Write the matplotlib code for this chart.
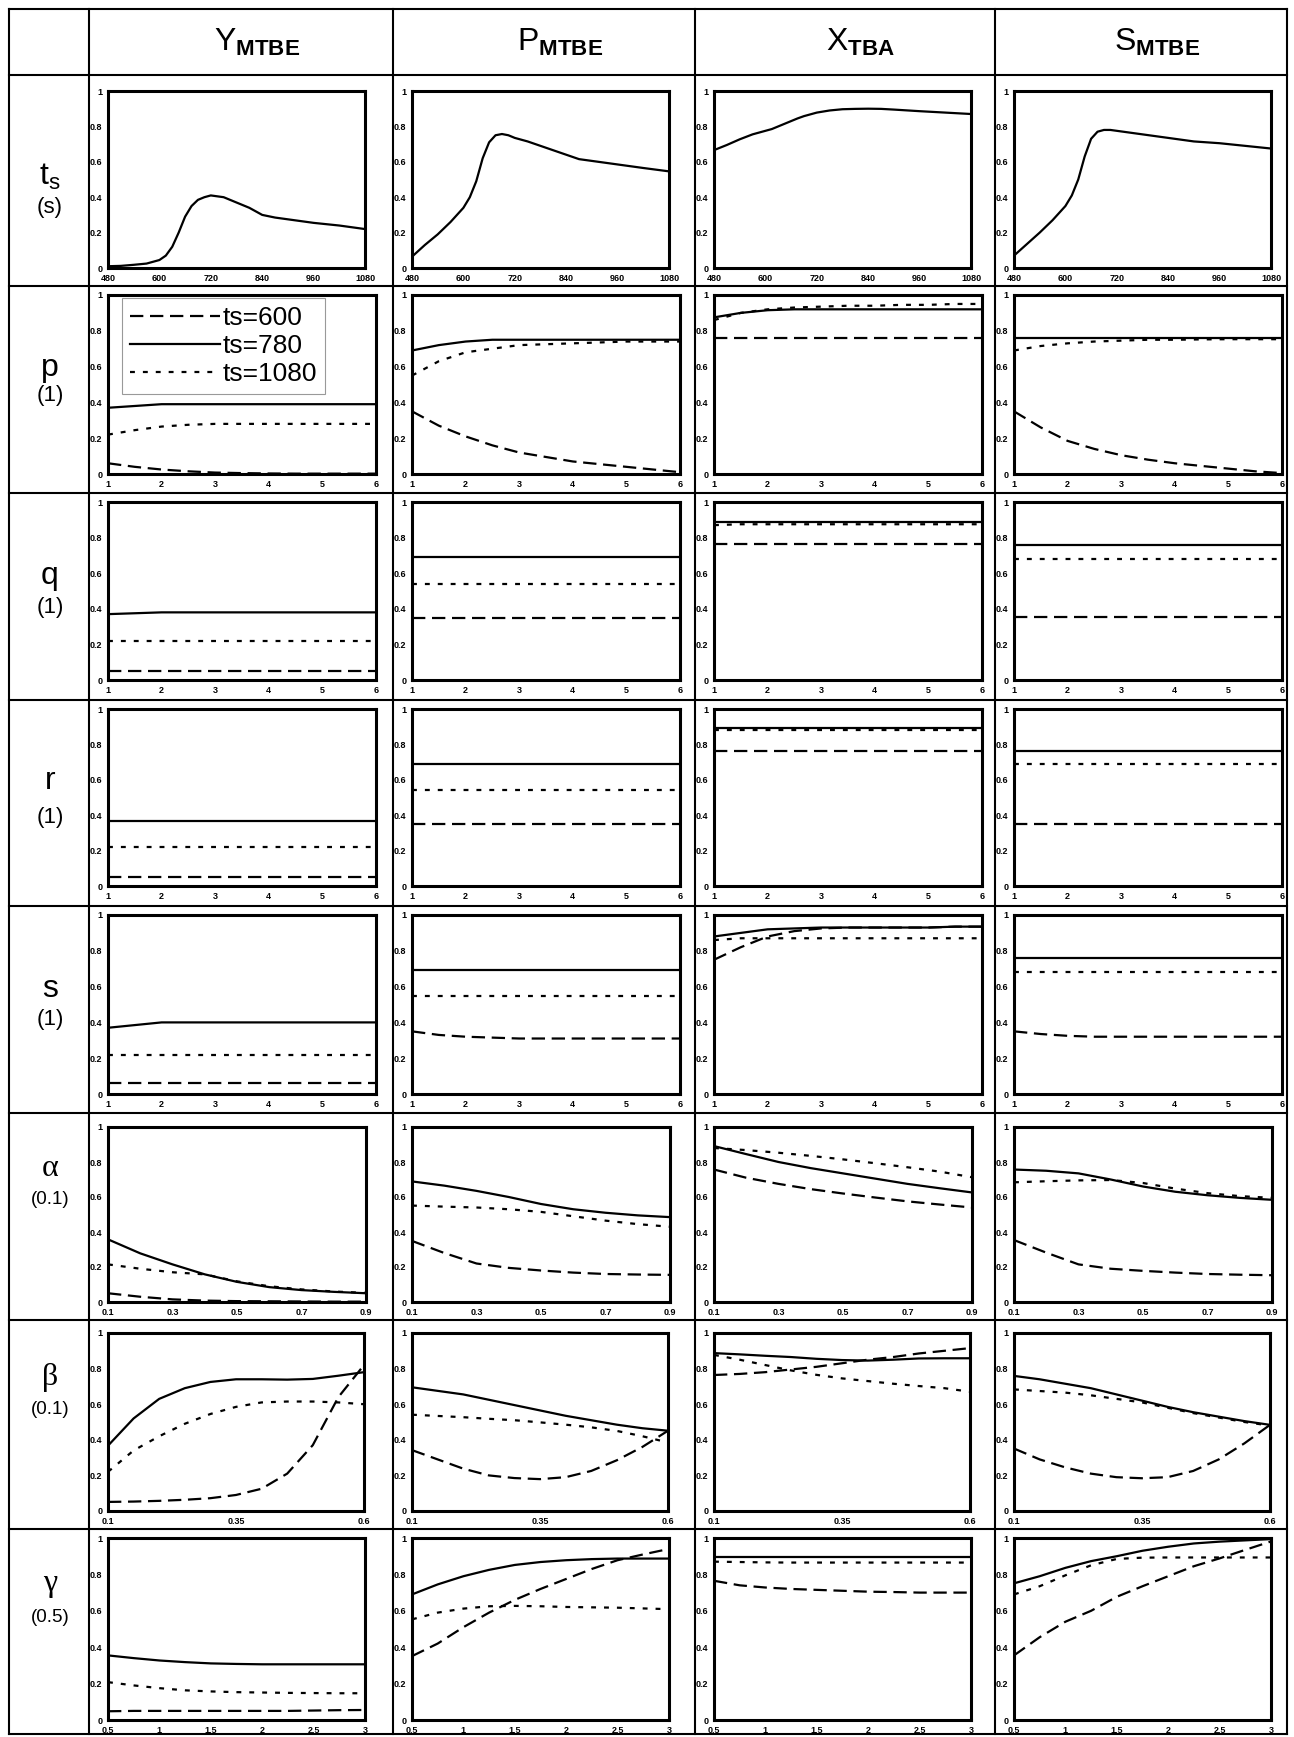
import matplotlib
matplotlib.use('Agg')
import matplotlib.pyplot as plt
from matplotlib.lines import Line2D

plt.rcParams['font.family'] = ['Liberation Sans', 'DejaVu Sans']
plt.rcParams['mathtext.fontset'] = 'custom'
plt.rcParams['mathtext.rm'] = 'Liberation Sans'
plt.rcParams['mathtext.bf'] = 'Liberation Sans:bold'
plt.rcParams['mathtext.it'] = 'Liberation Sans:italic'

# ---------------- data ----------------
COLUMN_TITLES = [r'$\mathrm{Y}_{\mathbf{MTBE}}$', r'$\mathrm{P}_{\mathbf{MTBE}}$',
                 r'$\mathrm{X}_{\mathbf{TBA}}$', r'$\mathrm{S}_{\mathbf{MTBE}}$']
ROW_NAMES = [r'$\mathrm{t}_{\mathrm{s}}$', 'p', 'q', 'r', 's', 'α', 'β', 'γ']
ROW_UNITS = ['(s)', '(1)', '(1)', '(1)', '(1)', '(0.1)', '(0.1)', '(0.5)']
SERIES_LABELS = ['ts=600', 'ts=780', 'ts=1080']
Y_TICKS = [0, 0.2, 0.4, 0.6, 0.8, 1]
Y_TICK_LABELS = ['0', '0.2', '0.4', '0.6', '0.8', '1']

# row t_s : single curve
TS_X = [480, 510, 540, 570, 600, 615, 630, 645, 660, 675, 690, 705, 720, 750, 780,
        810, 840, 870, 900, 960, 1020, 1080]
TS_Y = [.01, .012, .018, .025, .045, .07, .12, .20, .29, .35, .385, .40, .41, .40, .37,
        .34, .30, .285, .275, .255, .24, .22]
TS_P = [.064, .13, .19, .26, .34, .40, .49, .62, .71, .75, .757, .75, .735, .715, .69,
        .665, .64, .615, .605, .585, .565, .546]
TS_XT = [.666, .695, .727, .755, .775, .785, .80, .815, .83, .845, .858, .868, .878, .89, .897,
         .899, .90, .899, .895, .886, .878, .87]
TS_S = [.07, .135, .20, .27, .35, .41, .50, .63, .73, .77, .78, .78, .775, .765, .755,
        .745, .735, .725, .715, .705, .69, .675]
TS_TICKS = [480, 600, 720, 840, 960, 1080]

# rows p, q, r, s
PQRS_X = [1, 1.5, 2, 2.5, 3, 3.5, 4, 4.5, 5, 5.5, 6]
PQRS_TICKS = [1, 2, 3, 4, 5, 6]

P_Y = {600: [.06, .04, .025, .015, .008, .005, .003, .002, .002, .002, .002],
       780: [.37, .38, .39, .39, .39, .39, .39, .39, .39, .39, .39],
       1080: [.22, .245, .265, .275, .28, .28, .28, .28, .28, .28, .28]}
P_P = {600: [.35, .27, .21, .16, .12, .095, .07, .055, .04, .025, .01],
       780: [.69, .72, .74, .75, .75, .75, .75, .75, .75, .75, .75],
       1080: [.55, .63, .68, .70, .72, .725, .73, .735, .74, .74, .74]}
P_X = {600: [.76, .76, .76, .76, .76, .76, .76, .76, .76, .76, .76],
       780: [.875, .90, .915, .92, .92, .92, .92, .92, .92, .92, .92],
       1080: [.86, .90, .92, .93, .935, .94, .94, .945, .945, .95, .95]}
P_S = {600: [.35, .26, .185, .14, .105, .08, .06, .045, .03, .015, .005],
       780: [.76, .76, .76, .76, .76, .76, .76, .76, .76, .76, .76],
       1080: [.69, .715, .73, .74, .745, .75, .75, .752, .753, .753, .753]}

Q_Y = {600: [.05] * 11, 780: [.37, .375, .38, .38, .38, .38, .38, .38, .38, .38, .38],
       1080: [.22] * 11}
Q_P = {600: [.35] * 11, 780: [.69] * 11, 1080: [.54] * 11}
Q_X = {600: [.765] * 11, 780: [.89] * 11,
       1080: [.87, .875, .875, .875, .875, .875, .875, .875, .875, .875, .875]}
Q_S = {600: [.355] * 11, 780: [.76] * 11, 1080: [.68] * 11}

R_Y = {600: [.05] * 11, 780: [.37] * 11, 1080: [.22] * 11}
R_P = {600: [.35] * 11, 780: [.69] * 11, 1080: [.54] * 11}
R_X = {600: [.76] * 11, 780: [.89] * 11, 1080: [.88] * 11}
R_S = {600: [.35] * 11, 780: [.76] * 11, 1080: [.69] * 11}

S_Y = {600: [.06] * 11, 780: [.37, .385, .40, .40, .40, .40, .40, .40, .40, .40, .40],
       1080: [.22] * 11}
S_P = {600: [.35, .33, .32, .315, .31, .31, .31, .31, .31, .31, .31],
       780: [.69] * 11, 1080: [.545] * 11}
S_X = {600: [.75, .82, .88, .91, .925, .93, .93, .93, .93, .935, .935],
       780: [.88, .90, .92, .925, .93, .93, .93, .93, .93, .935, .935],
       1080: [.86, .87, .87, .87, .87, .87, .87, .87, .87, .87, .87]}
S_S = {600: [.35, .335, .325, .32, .32, .32, .32, .32, .32, .32, .32],
       780: [.76] * 11, 1080: [.68] * 11}

# row alpha
A_X = [0.1, 0.2, 0.3, 0.4, 0.5, 0.6, 0.7, 0.8, 0.9]
A_TICKS = [0.1, 0.3, 0.5, 0.7, 0.9]
A_Y = {600: [.05, .03, .015, .008, .005, .004, .003, .002, .002],
       780: [.358, .278, .215, .158, .115, .085, .068, .058, .05],
       1080: [.215, .19, .17, .158, .118, .09, .072, .06, .052]}
A_P = {600: [.349, .28, .22, .195, .18, .168, .16, .157, .155],
       780: [.689, .665, .635, .60, .56, .53, .51, .495, .485],
       1080: [.551, .545, .54, .53, .515, .49, .465, .445, .43]}
A_XT = {600: [.757, .71, .675, .645, .62, .597, .575, .557, .54],
        780: [.891, .845, .80, .765, .735, .705, .675, .65, .626],
        1080: [.88, .868, .853, .835, .815, .793, .77, .745, .713]}
A_S = {600: [.354, .282, .215, .19, .178, .168, .16, .156, .153],
       780: [.757, .75, .735, .70, .66, .63, .61, .595, .584],
       1080: [.684, .69, .695, .697, .68, .648, .622, .605, .595]}

# row beta
B_X = [0.1, 0.15, 0.2, 0.25, 0.3, 0.35, 0.4, 0.45, 0.5, 0.55, 0.6]
B_TICKS = [0.1, 0.35, 0.6]
B_Y = {600: [.051, .053, .057, .063, .072, .09, .125, .21, .37, .64, .82],
       780: [.367, .52, .63, .69, .725, .74, .74, .738, .742, .76, .78],
       1080: [.22, .34, .42, .49, .545, .585, .61, .615, .615, .61, .60]}
B_P = {600: [.342, .29, .238, .20, .185, .179, .19, .225, .285, .36, .451],
       780: [.695, .675, .655, .625, .595, .565, .535, .51, .485, .465, .451],
       1080: [.541, .534, .527, .518, .51, .498, .485, .47, .45, .42, .385]}
B_XT = {600: [.764, .77, .78, .795, .81, .83, .85, .865, .885, .90, .915],
        780: [.887, .88, .872, .865, .855, .848, .845, .85, .857, .858, .858],
        1080: [.877, .85, .82, .79, .765, .745, .73, .715, .702, .69, .67]}
B_S = {600: [.351, .29, .245, .21, .19, .184, .19, .225, .29, .38, .484],
       780: [.759, .74, .715, .69, .655, .62, .585, .555, .53, .505, .484],
       1080: [.683, .674, .665, .65, .63, .61, .58, .55, .525, .50, .48]}

# row gamma
G_X = [0.5, 0.75, 1, 1.25, 1.5, 1.75, 2, 2.25, 2.5, 2.75, 3]
G_TICKS = [0.5, 1, 1.5, 2, 2.5, 3]
G_Y = {600: [.048, .05, .05, .05, .05, .05, .05, .05, .052, .054, .055],
       780: [.355, .34, .327, .318, .311, .308, .306, .306, .306, .306, .306],
       1080: [.208, .19, .175, .163, .157, .153, .151, .149, .148, .147, .147]}
G_P = {600: [.351, .42, .51, .59, .66, .72, .775, .83, .878, .91, .94],
       780: [.69, .745, .79, .825, .852, .868, .878, .884, .887, .887, .887],
       1080: [.553, .59, .612, .625, .627, .625, .621, .619, .617, .613, .609]}
G_XT = {600: [.765, .74, .728, .72, .715, .71, .705, .703, .70, .70, .70],
        780: [.895] * 11,
        1080: [.87, .868, .866, .865, .865, .865, .865, .865, .865, .865, .865]}
G_S = {600: [.355, .455, .54, .60, .677, .735, .79, .845, .888, .935, .981],
       780: [.751, .79, .836, .873, .90, .93, .952, .97, .98, .987, .994],
       1080: [.69, .735, .795, .85, .885, .892, .893, .893, .893, .893, .893]}

# ---------------- layout (pixels) ----------------
W, H = 1294, 1737
COL_EDGES = [9, 89, 393, 695, 995, 1287]
ROW_EDGES = [9, 75, 286, 493, 700, 906, 1113, 1320, 1529, 1734]
TOP_OFF = [16, 9, 9, 9, 9, 14, 13, 9]
BOT_OFF = [18, 19, 20, 20, 19, 18, 18, 14]
WIDTHS = [257, 268, 268, 268, 268, 258, 256, 257]
LABEL_Y = [(177, 208), (368, 396), (576, 607), (781, 817), (989, 1019),
           (1169, 1200), (1377, 1409), (1584, 1618)]

STYLES = {600: dict(ls=(0, (6, 3)), lw=1.6, color='black'),
          780: dict(ls='-', lw=1.6, color='black'),
          1080: dict(ls=(0, (2.2, 3.6)), lw=1.6, color='black')}

ROW_X = [TS_X, PQRS_X, PQRS_X, PQRS_X, PQRS_X, A_X, B_X, G_X]
ROW_TICKS = [TS_TICKS, PQRS_TICKS, PQRS_TICKS, PQRS_TICKS, PQRS_TICKS, A_TICKS, B_TICKS, G_TICKS]
PANELS = [[TS_Y, TS_P, TS_XT, TS_S],
          [P_Y, P_P, P_X, P_S],
          [Q_Y, Q_P, Q_X, Q_S],
          [R_Y, R_P, R_X, R_S],
          [S_Y, S_P, S_X, S_S],
          [A_Y, A_P, A_XT, A_S],
          [B_Y, B_P, B_XT, B_S],
          [G_Y, G_P, G_XT, G_S]]


def fx(px):
    return px / W


def fy(py):
    return 1 - py / H


fig = plt.figure(figsize=(W / 100, H / 100), dpi=100)

# table grid
for x in COL_EDGES:
    fig.add_artist(Line2D([fx(x), fx(x)], [fy(ROW_EDGES[0]), fy(ROW_EDGES[-1])],
                          transform=fig.transFigure, color='black', lw=1.5))
for y in ROW_EDGES:
    fig.add_artist(Line2D([fx(COL_EDGES[0]), fx(COL_EDGES[-1])], [fy(y), fy(y)],
                          transform=fig.transFigure, color='black', lw=1.5))

# column titles
hy = (ROW_EDGES[0] + ROW_EDGES[1]) / 2
for c, t in enumerate(COLUMN_TITLES):
    cx = (COL_EDGES[c + 1] + COL_EDGES[c + 2]) / 2 + 16
    fig.text(fx(cx), fy(hy), t, ha='center', va='center', fontsize=23)

# row labels
for r in range(8):
    y1, y2 = LABEL_Y[r]
    if r >= 5:
        fig.text(fx(50), fy(y1), ROW_NAMES[r], ha='center', va='center', fontsize=23,
                 family=['Liberation Serif', 'DejaVu Serif'])
    else:
        fig.text(fx(50), fy(y1), ROW_NAMES[r], ha='center', va='center', fontsize=23)
    fig.text(fx(50), fy(y2), ROW_UNITS[r], ha='center', va='center',
             fontsize=16 if r < 5 else 13.5)

legend_ax = None
for r in range(8):
    xs = ROW_X[r]
    for c in range(4):
        left = COL_EDGES[c + 1] + 19
        top = ROW_EDGES[r + 1] + TOP_OFF[r]
        bottom = ROW_EDGES[r + 2] - BOT_OFF[r]
        ax = fig.add_axes([fx(left), fy(bottom), WIDTHS[r] / W, (bottom - top) / H])
        data = PANELS[r][c]
        if isinstance(data, dict):
            for key, lab in zip([600, 780, 1080], SERIES_LABELS):
                ax.plot(xs, data[key], label=lab, **STYLES[key])
        else:
            ax.plot(xs, data, **STYLES[780])
        ax.set_xlim(xs[0], xs[-1])
        ax.set_ylim(0, 1)
        ax.set_yticks(Y_TICKS)
        ax.set_yticklabels(Y_TICK_LABELS)
        ax.set_xticks(ROW_TICKS[r])
        ax.set_xticklabels([('%g' % v) for v in ROW_TICKS[r]])
        ax.tick_params(length=0, labelsize=6.5, pad=4)
        for lab in ax.get_xticklabels() + ax.get_yticklabels():
            lab.set_fontweight('bold')
        for sp in ax.spines.values():
            sp.set_linewidth(2.2)
        if r == 1 and c == 0:
            legend_ax = ax

leg = legend_ax.legend(loc='upper left', bbox_to_anchor=(fx(122), fy(298)),
                       bbox_transform=fig.transFigure, fontsize=19, handlelength=3.4,
                       handletextpad=0.1, labelspacing=0.15, borderpad=0.3,
                       frameon=True, fancybox=False, borderaxespad=0)
leg.get_frame().set_edgecolor('gray')
leg.get_frame().set_linewidth(0.8)

fig.savefig('out.png', dpi=100)
